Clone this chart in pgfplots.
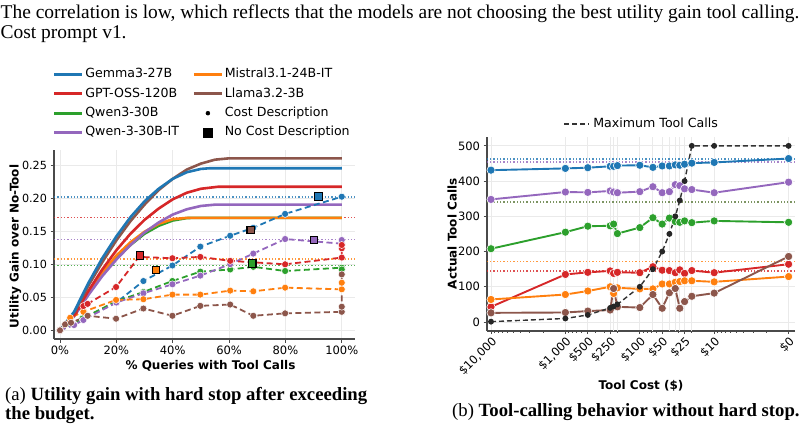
\documentclass[border=0pt]{standalone}
\usepackage{pgfplots}
\usepackage{pgfplotstable}
\pgfplotsset{compat=1.18}
\usepackage{fontspec}
\setmainfont{Liberation Serif}
\newfontfamily\plotfont{DejaVu Sans}
\newcommand\fsz[1]{\fontsize{#1bp}{#1bp}\selectfont}

\definecolor{cblue}{HTML}{1F77B4}
\definecolor{corange}{HTML}{FF7F0E}
\definecolor{cgreen}{HTML}{2CA02C}
\definecolor{cred}{HTML}{D62728}
\definecolor{cpurple}{HTML}{9467BD}
\definecolor{cbrown}{HTML}{8C564B}
\definecolor{spinec}{HTML}{4A4A4A}
\definecolor{gridc}{HTML}{EAEAEA}

\pgfplotsset{
  base/.style={
    scale only axis, axis lines*=left,
    axis line style={draw=spinec, line width=1.7bp},
    tick style={draw=spinec, line width=0.9bp},
    tick align=outside, major tick length=3.5bp, minor tick length=2bp,
    grid style={draw=gridc, line width=0.9bp},
    ticklabel style={font=\plotfont\fsz{11.5}},
    /pgf/number format/assume math mode=true,
    label style={font=\plotfont\bfseries\fsz{12}},
  },
  oracle/.style={color=#1, line width=2.6bp, no marks, line join=round},
  costdesc/.style={color=#1, line width=1.8bp, dash pattern=on 6bp off 3.5bp,
    mark=*, mark size=3.5bp,
    mark options={solid, draw=white, line width=0.5bp, fill=#1}},
  nocost/.style={only marks, mark=square*, mark size=3.8bp,
    mark options={draw=black, line width=1.1bp, fill=#1}},
  refline/.style={color=#1, line width=1.3bp, dash pattern=on 1.3bp off 2bp, opacity=0.8},
  calls/.style={color=#1, line width=1.9bp, mark=*, mark size=4.1bp,
    mark options={draw=white, line width=0.6bp, fill=#1}},
  swatch/.style={legend image code/.code={\draw[#1, line width=2.8bp] (0bp,0bp) -- (28bp,0bp);}},
}

% Actual tool calls per model against the per-call cost (the $0 setting sits at 1)
\pgfplotstableread{
cost  gemma gptoss qwen qwenit mistral llama maxcalls
10000 431   43     208  348    64      26    1
1000  436   135    255  369    78      27    10
500   438   141    272  368    88      31    20
250   442   145    273  372    100     34    40
225   442   138    278  369    81      95    44
200   444   141    251  367    97      43    50
100   445   140    268  370    94      41    100
66.67 439   157    296  384    94      78    150
50    443   147    278  367    108     39    200
40    443   146    295  370    108     83    250
33.33 446   140    285  390    113     95    300
29    445   148    283  387    115     39    345
25    448   138    287  378    117     58    400
20    451   146    282  376    117     73    500
10    453   140    287  367    114     82    500
1     464   164    283  397    129     186   500
}\toolcalls

\begin{document}
\begin{tikzpicture}
\useasboundingbox (0,0) rectangle (808bp,-431bp);

\node[anchor=base west, inner sep=0pt, font=\fsz{19.45}] at (0.5bp,-18bp)
  {The correlation is low, which reflects that the models are not choosing the best utility gain tool calling.};
\node[anchor=base west, inner sep=0pt, font=\fsz{19.45}] at (0.5bp,-38.5bp)
  {Cost prompt v1.};

%---------------- (a) utility gain with hard stop ----------------
\begin{axis}[base,
  at={(54bp,-339bp)}, anchor=south west,
  width=301bp, height=189bp,
  xmin=-2.13, xmax=104.7, ymin=-0.0131, ymax=0.2726,
  xtick={0,20,40,60,80,100},
  xticklabels={0\%,20\%,40\%,60\%,80\%,100\%},
  ytick={0,0.05,0.1,0.15,0.2,0.25},
  yticklabel style={font=\plotfont\fsz{11.2}, /pgf/number format/.cd, fixed, fixed zerofill, precision=2},
  grid=major,
  xlabel={\% Queries with Tool Calls},
  ylabel={Utility Gain over No-Tool},
  xlabel style={at={(axis description cs:0.52,-0.143)}, anchor=center},
  ylabel style={at={(axis description cs:-0.128,0.49)}, anchor=center},
  legend columns=2, legend cell align=left,
  legend style={at={(axis description cs:-0.004,1.435)}, anchor=north west,
    draw=none, fill=none, inner sep=0pt,
    font=\plotfont\fsz{12.6}, row sep=6.6bp, column sep=1bp,
    /tikz/every even column/.append style={column sep=13bp},
    nodes={inner sep=0.5bp, text height=9.2bp, text depth=2.6bp}},
]
\addlegendimage{swatch=cblue}
\addlegendentry{Gemma3-27B}
\addlegendimage{swatch=corange}
\addlegendentry{Mistral3.1-24B-IT}
\addlegendimage{swatch=cred}
\addlegendentry{GPT-OSS-120B}
\addlegendimage{swatch=cbrown}
\addlegendentry{Llama3.2-3B}
\addlegendimage{swatch=cgreen}
\addlegendentry{Qwen3-30B}
\addlegendimage{legend image code/.code={\fill[black] (14bp,0bp) circle (2bp);}}
\addlegendentry{Cost Description}
\addlegendimage{swatch=cpurple}
\addlegendentry{Qwen-3-30B-IT}
\addlegendimage{legend image code/.code={\fill[black] (9.5bp,-4.5bp) rectangle (18.5bp,4.5bp);}}
\addlegendentry{No Cost Description}

% utility gain of the tool-free baseline per model
\addplot[refline=cblue, forget plot] coordinates {(-2.13,0.2016) (104.7,0.2016)};
\addplot[refline=cred, forget plot] coordinates {(-2.13,0.171) (104.7,0.171)};
\addplot[refline=cpurple, forget plot] coordinates {(-2.13,0.1376) (104.7,0.1376)};
\addplot[refline=corange, forget plot] coordinates {(-2.13,0.108) (104.7,0.108)};
\addplot[refline=cgreen, forget plot] coordinates {(-2.13,0.098) (104.7,0.098)};

% best achievable gain when the most useful queries get the tool first
\addplot[oracle=cgreen, forget plot] coordinates {(0,0) (5,0.022) (10,0.055) (15,0.084) (20,0.109) (25,0.129) (30,0.146) (35,0.158) (40,0.166) (45,0.1697) (47,0.17) (100,0.17)};
\addplot[oracle=corange, forget plot] coordinates {(0,0) (5,0.023) (10,0.057) (15,0.087) (20,0.113) (25,0.133) (30,0.149) (35,0.161) (40,0.168) (45,0.17) (100,0.17)};
\addplot[oracle=cpurple, forget plot] coordinates {(0,0) (5,0.021) (10,0.053) (15,0.082) (20,0.107) (25,0.129) (30,0.148) (35,0.163) (40,0.175) (45,0.183) (50,0.188) (55,0.19) (100,0.19)};
\addplot[oracle=cred, forget plot] coordinates {(0,0) (5,0.023) (10,0.059) (15,0.092) (20,0.121) (25,0.146) (30,0.167) (35,0.184) (40,0.198) (45,0.208) (50,0.214) (56,0.217) (100,0.217)};
\addplot[oracle=cbrown, forget plot] coordinates {(0,0) (5,0.026) (10,0.067) (15,0.103) (20,0.136) (25,0.165) (30,0.190) (35,0.212) (40,0.229) (45,0.243) (50,0.252) (55,0.258) (60,0.26) (100,0.26)};
\addplot[oracle=cblue, forget plot] coordinates {(0,0) (5,0.028) (10,0.071) (15,0.109) (20,0.142) (25,0.171) (30,0.195) (35,0.214) (40,0.229) (45,0.239) (50,0.244) (53,0.245) (100,0.245)};

% realised gain with the cost described in the prompt
\addplot[costdesc=cblue, forget plot] coordinates {(0,0) (8,0.018) (20,0.042) (29.6,0.0745) (39.9,0.098) (49.8,0.1265) (60.4,0.143) (68.6,0.155) (79.9,0.176) (100,0.202)};
\addplot[costdesc=cgreen, forget plot] coordinates {(0,0) (8,0.018) (20,0.044) (29.6,0.058) (39.9,0.0746) (49.8,0.0887) (60.4,0.092) (68.6,0.096) (79.9,0.0897) (100,0.0947) (100,0.092)};
\addplot[costdesc=cpurple, forget plot] coordinates {(0,0) (5,0.008) (8.3,0.0156) (20,0.042) (29.6,0.056) (39.9,0.0696) (49.8,0.0827) (60.4,0.100) (68.6,0.116) (79.9,0.138) (100,0.131) (100,0.1365)};
\addplot[costdesc=corange, forget plot] coordinates {(0,0) (3.6,0.019) (8.3,0.028) (19.9,0.046) (29.6,0.047) (39.9,0.054) (49.8,0.054) (60.4,0.060) (68.6,0.059) (79.9,0.0645) (100,0.062) (100,0.072)};
\addplot[costdesc=cred, forget plot] coordinates {(0,0) (8.3,0.0367) (9.8,0.040) (19.9,0.0655) (28,0.111) (39.9,0.109) (49.8,0.111) (60.4,0.105) (79.9,0.0998) (100,0.110) (100,0.124) (100,0.129)};
\addplot[costdesc=cbrown, forget plot] coordinates {(0,0) (1.8,0.009) (3.9,0.0115) (9.8,0.022) (19.9,0.0176) (29.6,0.033) (39.9,0.022) (49.8,0.037) (60.4,0.039) (68.6,0.022) (79.9,0.0257) (100,0.028) (100,0.0357) (100,0.0846)};

% same runs without the cost description
\addplot[nocost=cred, forget plot] coordinates {(28.4,0.1134)};
\addplot[nocost=corange, forget plot] coordinates {(34.1,0.0912)};
\addplot[nocost=cbrown, forget plot] coordinates {(67.7,0.1517)};
\addplot[nocost=cgreen, forget plot] coordinates {(68.2,0.101)};
\addplot[nocost=cpurple, forget plot] coordinates {(90.2,0.1366)};
\addplot[nocost=cblue, forget plot] coordinates {(91.7,0.202)};
\end{axis}

%---------------- (b) tool calls without hard stop ----------------
\begin{axis}[base,
  at={(487bp,-330.7bp)}, anchor=south west,
  width=308bp, height=194bp,
  xmode=log, x dir=reverse,
  xmin=0.82, xmax=11320, ymin=-24.7, ymax=526,
  xtick={10000,1000,500,250,100,50,25,10,1},
  xticklabels={{\$10,000},{\$1,000},{\$500},{\$250},{\$100},{\$50},{\$25},{\$10},{\$0}},
  xticklabel style={rotate=45, anchor=north east, inner sep=1bp},
  extra x ticks={225,200,66.67,40,33.33,29,20},
  extra x tick labels={},
  extra x tick style={grid=major, major tick length=0pt},
  minor xtick={2000,3000,4000,5000,6000,7000,8000,9000,200,300,400,600,700,800,900,20,30,60,70,80,90,2,3,4,5,6,7,8,9},
  ytick={0,100,200,300,400,500},
  grid=major,
  xlabel={Tool Cost (\$)},
  ylabel={Actual Tool Calls},
  xlabel style={at={(axis description cs:0.5,-0.285)}, anchor=center},
  ylabel style={at={(axis description cs:-0.113,0.5)}, anchor=center},
  legend style={at={(axis description cs:0.5,1.0)}, anchor=south, yshift=6bp,
    draw=none, fill=none, inner sep=0pt,
    font=\plotfont\fsz{12.6}, column sep=3bp,
    nodes={inner sep=0.5bp, text height=9.2bp, text depth=2.6bp}},
]
% call counts reached by each model without any cost information
\addplot[refline=cblue, forget plot] coordinates {(0.82,463) (11320,463)};
\addplot[refline=cpurple, forget plot] coordinates {(0.82,454) (11320,454)};
\addplot[refline=cgreen!50!cbrown, forget plot] coordinates {(0.82,341) (11320,341)};
\addplot[refline=corange, forget plot] coordinates {(0.82,172) (11320,172)};
\addplot[refline=cred, forget plot] coordinates {(0.82,145) (11320,145)};

\addplot[calls=cblue, forget plot] table[x=cost, y=gemma] {\toolcalls};
\addplot[calls=cpurple, forget plot] table[x=cost, y=qwenit] {\toolcalls};
\addplot[calls=cgreen, forget plot] table[x=cost, y=qwen] {\toolcalls};
\addplot[calls=cred, forget plot] table[x=cost, y=gptoss] {\toolcalls};
\addplot[calls=corange, forget plot] table[x=cost, y=mistral] {\toolcalls};
\addplot[calls=cbrown, forget plot] table[x=cost, y=llama] {\toolcalls};

\addplot[color=black!80, line width=1.4bp, dash pattern=on 5bp off 3bp,
  mark=*, mark size=2.2bp, mark options={solid, fill=black!85, draw=black!85},
  legend image code/.code={\draw[black!80, line width=1.4bp, dash pattern=on 5bp off 3bp] (0bp,0bp) -- (25bp,0bp);}]
  table[x=cost, y=maxcalls] {\toolcalls};
\addlegendentry{Maximum Tool Calls}
\end{axis}

\node[anchor=base west, inner sep=0pt, font=\fsz{18.7}] at (5bp,-400bp)
  {(a) \textbf{Utility gain with hard stop after exceeding}};
\node[anchor=base west, inner sep=0pt, font=\fsz{18.7}] at (5bp,-419.5bp)
  {\textbf{the budget.}};
\node[anchor=base west, inner sep=0pt, font=\fsz{18.7}] at (452bp,-416bp)
  {(b) \textbf{Tool-calling behavior without hard stop.}};
\end{tikzpicture}
\end{document}
